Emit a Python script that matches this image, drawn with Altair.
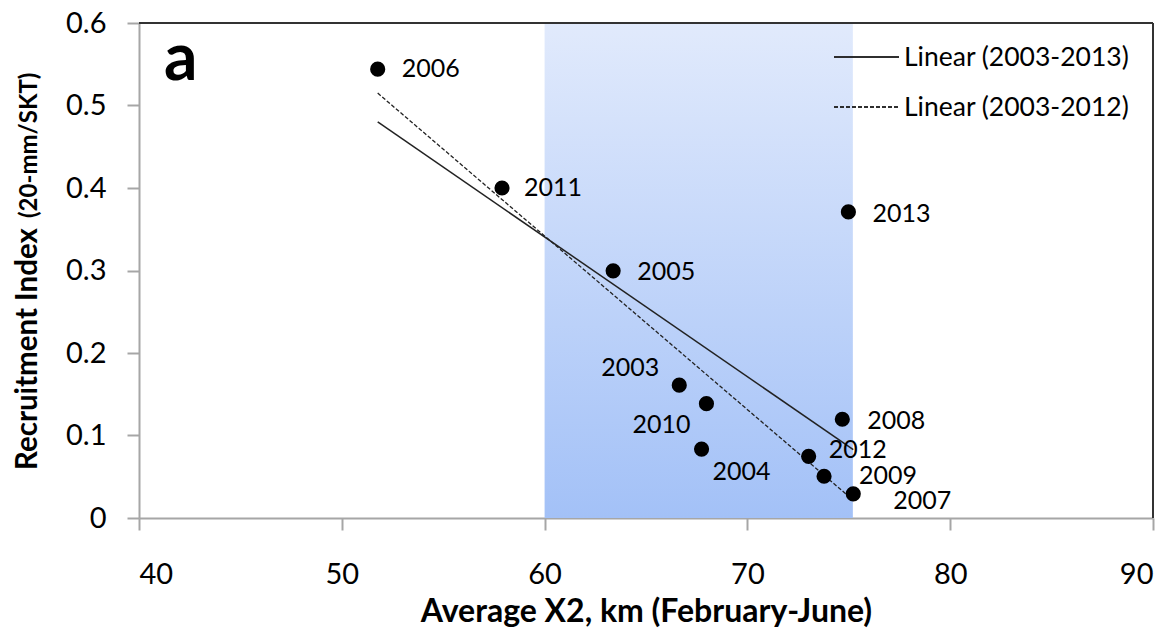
import altair as alt
import pandas as pd

# ---- data ----
years = [2003, 2004, 2005, 2006, 2007, 2008, 2009, 2010, 2011, 2012, 2013]
x2_km = [66.64, 67.74, 63.38, 51.77, 75.22, 74.68, 73.78, 67.98, 57.90, 73.02, 74.98]
recruit = [0.161, 0.0835, 0.2996, 0.544, 0.0293, 0.1197, 0.0506, 0.1386, 0.400, 0.0747, 0.371]

band_x = [60, 75.2]          # shaded X2 range
x_ticks = [40, 50, 60, 70, 80, 90]
y_ticks = [0, 0.1, 0.2, 0.3, 0.4, 0.5, 0.6]
legend_labels = ["Linear (2003-2013)", "Linear (2003-2012)"]
panel_label = "a"
x_title = "Average X2, km (February-June)"
y_title_main = "Recruitment Index"
y_title_sub = "(20-mm/SKT)"

# ---- styles ----
FONT = "Lato"
W, H = 1014, 495
LABEL_STYLE = {  # year: (dx, dy, align)
    2003: (-20, -17, "right"),
    2004: (11, 23, "left"),
    2005: (24, 1, "left"),
    2006: (24, 0, "left"),
    2007: (40, 7, "left"),
    2008: (25, 2, "left"),
    2009: (35, 0, "left"),
    2010: (-16, 21, "right"),
    2011: (22, 0, "left"),
    2012: (20, -6, "left"),
    2013: (24, 2, "left"),
}

df = pd.DataFrame({"year": years, "x": x2_km, "y": recruit})
band = pd.DataFrame({"x": [band_x[0]], "x2": [band_x[1]], "y": [y_ticks[0]], "y2": [y_ticks[-1]]})
frame = pd.DataFrame({"x": [x_ticks[0], x_ticks[-1]], "x2": [x_ticks[-1], x_ticks[-1]],
                      "y": [y_ticks[-1], y_ticks[0]], "y2": [y_ticks[-1], y_ticks[-1]]})

xscale = alt.Scale(domain=[x_ticks[0], x_ticks[-1]], nice=False, zero=False)
yscale = alt.Scale(domain=[y_ticks[0], y_ticks[-1]], nice=False)

axis_common = dict(grid=False, tickSize=12, domainColor="#a6a6a6", tickColor="#a6a6a6",
                   domainWidth=2, tickWidth=2, labelFont=FONT, labelFontSize=29,
                   labelColor="#000000")

X = alt.X("x:Q", scale=xscale,
          axis=alt.Axis(values=x_ticks, title=x_title, labelPadding=30,
                        titleFont=FONT, titleFontSize=32, titleFontWeight="bold",
                        titleColor="#000000", titleX=W / 2, titleY=103,
                        titleAlign="center", titleBaseline="alphabetic", **axis_common))
Y = alt.Y("y:Q", scale=yscale,
          axis=alt.Axis(values=y_ticks, title=None, labelPadding=21,
                        labelExpr="datum.value == 0 ? '0' : format(datum.value, '.1f')",
                        **axis_common))

gradient = alt.Gradient(gradient="linear",
                        stops=[alt.GradientStop(color="#e1eafc", offset=0),
                               alt.GradientStop(color="#a3c1f7", offset=1)],
                        x1=0, x2=0, y1=0, y2=1)

band_layer = alt.Chart(band).mark_rect(color=gradient).encode(
    x=X, x2="x2:Q", y=Y, y2="y2:Q")

frame_layer = alt.Chart(frame).mark_rule(color="#333333", strokeWidth=2).encode(
    x=X, x2="x2:Q", y=Y, y2="y2:Q")

base = alt.Chart(df)

fit_all = base.transform_regression("x", "y").mark_line(
    color="#222222", strokeWidth=1.5).encode(x=X, y=Y)
fit_no13 = base.transform_filter("datum.year != 2013").transform_regression("x", "y").mark_line(
    color="#222222", strokeWidth=1.3, strokeDash=[4, 2]).encode(x=X, y=Y)

points = base.mark_circle(size=230, color="#000000", opacity=1).encode(x=X, y=Y)

label_layers = []
for yr in years:
    dx, dy, al = LABEL_STYLE[yr]
    label_layers.append(
        base.transform_filter(f"datum.year == {yr}").mark_text(
            dx=dx, dy=dy, align=al, baseline="middle", font=FONT, fontSize=25,
            color="#000000").encode(x=X, y=Y, text="year:N"))

# legend (manual, top right)
leg_df = pd.DataFrame({"label": legend_labels})
leg_layers = []
for i, dash in enumerate([[1, 0], [4, 2]]):
    yy = 34 + 50 * i
    leg_layers.append(alt.Chart(leg_df).mark_rule(color="#222222", strokeWidth=1.5, strokeDash=dash)
                      .encode(x=alt.value(695), x2=alt.value(760), y=alt.value(yy)))
    leg_layers.append(alt.Chart(leg_df).transform_filter(f"datum.label == '{legend_labels[i]}'")
                      .mark_text(align="left", baseline="middle", font=FONT, fontSize=26.5, color="#000000")
                      .encode(x=alt.value(765), y=alt.value(yy + 1), text="label:N"))

# panel label and y title
txt_df = pd.DataFrame({"a": [panel_label], "t1": [y_title_main], "t2": [y_title_sub]})
panel = alt.Chart(txt_df).mark_text(align="left", baseline="alphabetic", font=FONT, fontSize=66,
                                    fontWeight="bold", color="#000000").encode(
    x=alt.value(25), y=alt.value(57), text="a:N")
ytitle1 = alt.Chart(txt_df).mark_text(align="left", baseline="alphabetic", angle=270, font=FONT,
                                      fontSize=29.5, fontWeight="bold", color="#000000").encode(
    x=alt.value(-102), y=alt.value(447), text="t1:N")
ytitle2 = alt.Chart(txt_df).mark_text(align="left", baseline="alphabetic", angle=270, font=FONT,
                                      fontSize=24, fontWeight="bold", color="#000000").encode(
    x=alt.value(-102), y=alt.value(195), text="t2:N")

chart = alt.layer(band_layer, frame_layer, fit_all, fit_no13, points, *label_layers,
                  *leg_layers, panel, ytitle1, ytitle2).properties(
    width=W, height=H,
    autosize=alt.AutoSizeParams(type="none"),
    padding={"left": 131, "top": 15, "right": 15, "bottom": 112},
).configure_view(stroke=None).configure(background="white")

chart.save("out.html", embed_options={"renderer": "svg", "actions": False})
